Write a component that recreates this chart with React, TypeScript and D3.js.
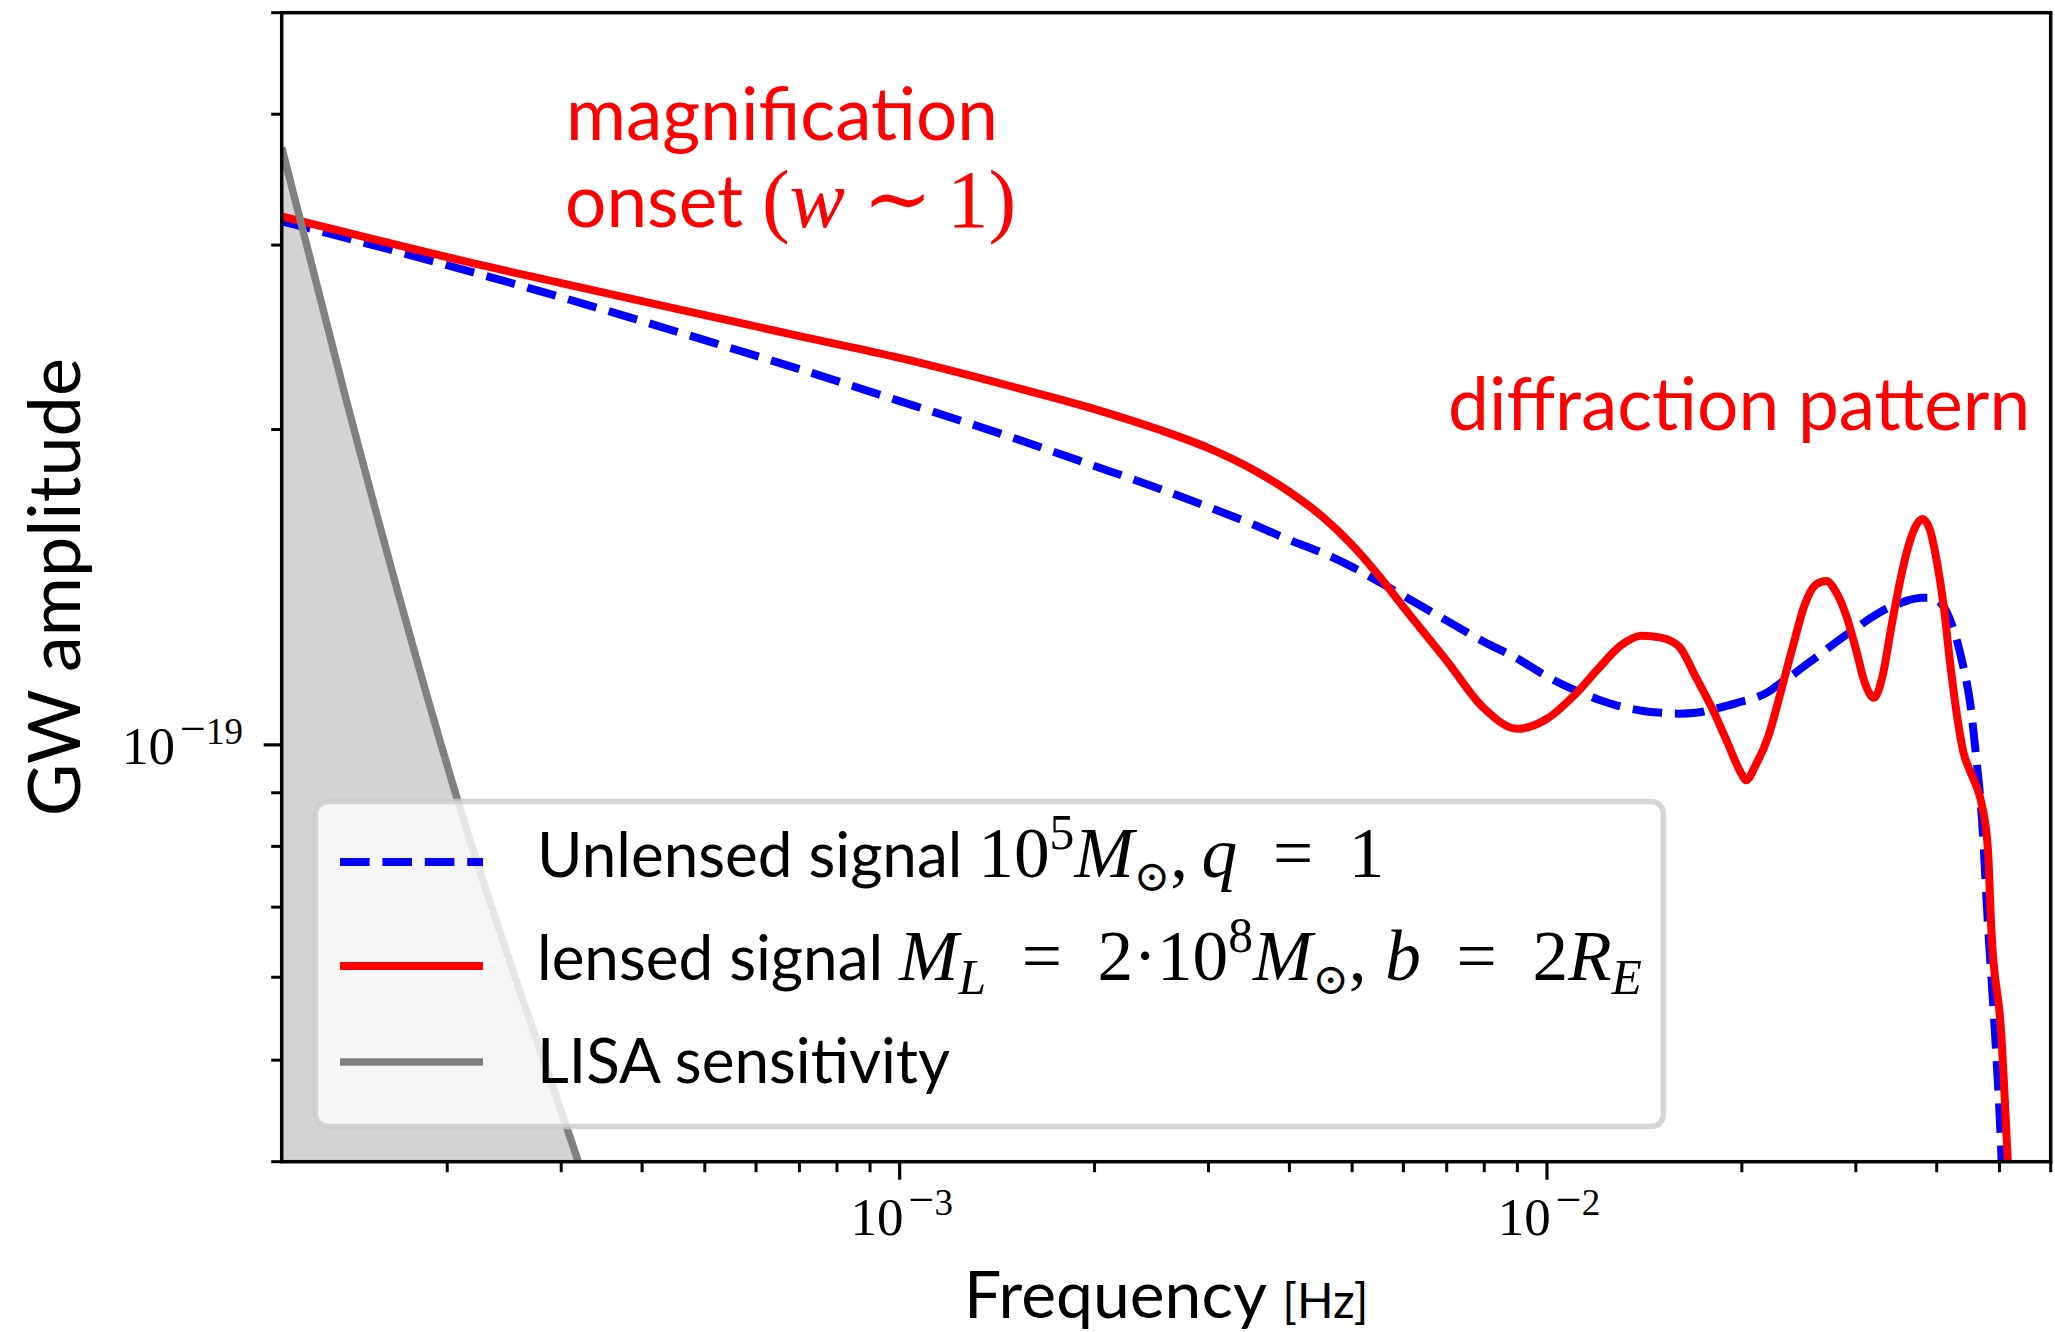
import React from 'react';
import * as d3 from 'd3';

// ---------- data ----------
const lensedFreq = [
  1.11e-4, 1.5e-4, 2e-4, 3e-4, 5e-4, 7e-4, 1e-3, 1.5e-3, 2e-3, 2.5e-3, 3e-3, 3.5e-3, 4e-3, 4.5e-3, 5e-3, 5.5e-3, 6e-3, 7e-3, 8e-3, 9e-3,
  1.0e-2, 1.1e-2, 1.2e-2, 1.3e-2, 1.4e-2, 1.5e-2, 1.6e-2, 1.7e-2, 1.8e-2, 1.9e-2,
  2.0e-2, 2.03e-2, 2.1e-2, 2.2e-2, 2.3e-2, 2.4e-2, 2.5e-2, 2.6e-2, 2.7e-2, 2.8e-2, 2.9e-2,
  3.0e-2, 3.1e-2, 3.2e-2, 3.3e-2, 3.4e-2, 3.5e-2, 3.6e-2, 3.7e-2, 3.8e-2, 3.9e-2,
  4.0e-2, 4.1e-2, 4.2e-2, 4.3e-2, 4.4e-2, 4.5e-2, 4.6e-2, 4.7e-2, 4.8e-2,
  4.86e-2, 5.03e-2, 5.15e-2, 5.21e-2,
];
const lensedAmp = [
  3.196e-19, 3.052e-19, 2.921e-19, 2.759e-19, 2.572e-19, 2.456e-19, 2.341e-19, 2.196e-19, 2.092e-19, 2.002e-19,
  1.920e-19, 1.834e-19, 1.744e-19, 1.651e-19, 1.552e-19, 1.450e-19, 1.354e-19, 1.203e-19, 1.083e-19, 1.036e-19,
  1.059e-19, 1.114e-19, 1.182e-19, 1.244e-19, 1.271e-19, 1.266e-19, 1.241e-19, 1.159e-19, 1.083e-19, 1.005e-19,
  0.937e-19, 0.925e-19, 0.956e-19, 1.021e-19, 1.127e-19, 1.244e-19, 1.360e-19, 1.422e-19, 1.434e-19, 1.397e-19, 1.328e-19,
  1.235e-19, 1.144e-19, 1.109e-19, 1.164e-19, 1.291e-19, 1.419e-19, 1.532e-19, 1.611e-19, 1.643e-19, 1.608e-19,
  1.499e-19, 1.358e-19, 1.190e-19, 1.066e-19, 0.983e-19, 0.945e-19, 0.915e-19, 0.875e-19, 0.793e-19,
  0.663e-19, 0.532e-19, 0.401e-19, 0.344e-19,
];
const unlensedFreq = [
  1.11e-4, 1.5e-4, 2e-4, 3e-4, 5e-4, 7e-4, 1e-3, 1.5e-3, 2e-3, 2.5e-3, 3e-3, 3.5e-3, 4e-3, 4.5e-3, 5e-3, 5.5e-3, 6e-3, 7e-3, 8e-3, 9e-3,
  1.0e-2, 1.1e-2, 1.2e-2, 1.3e-2, 1.4e-2, 1.5e-2, 1.6e-2, 1.7e-2, 1.8e-2, 1.9e-2,
  2.0e-2, 2.1e-2, 2.2e-2, 2.3e-2, 2.4e-2, 2.5e-2, 2.6e-2, 2.7e-2, 2.8e-2, 2.9e-2,
  3.0e-2, 3.1e-2, 3.2e-2, 3.3e-2, 3.4e-2, 3.5e-2, 3.6e-2, 3.7e-2, 3.8e-2, 3.9e-2,
  4.0e-2, 4.1e-2, 4.2e-2, 4.3e-2, 4.4e-2, 4.5e-2, 4.6e-2, 4.7e-2, 4.8e-2,
  4.92e-2, 5.038e-2, 5.08e-2,
];
const unlensedAmp = [
  3.161e-19, 3.012e-19, 2.870e-19, 2.675e-19, 2.434e-19, 2.284e-19, 2.129e-19, 1.963e-19, 1.846e-19, 1.759e-19,
  1.687e-19, 1.625e-19, 1.569e-19, 1.525e-19, 1.479e-19, 1.431e-19, 1.388e-19, 1.314e-19, 1.254e-19, 1.209e-19,
  1.162e-19, 1.129e-19, 1.105e-19, 1.088e-19, 1.078e-19, 1.073e-19, 1.071e-19, 1.073e-19, 1.081e-19, 1.090e-19,
  1.100e-19, 1.109e-19, 1.124e-19, 1.147e-19, 1.167e-19, 1.190e-19, 1.211e-19, 1.233e-19, 1.254e-19, 1.274e-19,
  1.291e-19, 1.311e-19, 1.328e-19, 1.343e-19, 1.355e-19, 1.364e-19, 1.373e-19, 1.379e-19, 1.382e-19, 1.382e-19,
  1.376e-19, 1.355e-19, 1.314e-19, 1.257e-19, 1.185e-19, 1.102e-19, 0.977e-19, 0.847e-19, 0.673e-19,
  0.532e-19, 0.401e-19, 0.344e-19,
];
const lisaFreq = [1.11e-4, 1.398e-4, 2.069e-4, 3.185e-4, 3.5e-4];
const lisaAmp = [3.719e-19, 2.129e-19, 0.891e-19, 0.4006e-19, 0.3365e-19];

const xDomain = [1.11e-4, 6e-2];
const yDomain = [4e-20, 5e-19];
const xMajorTicks = [1e-3, 1e-2];
const xMajorExponents = ['3', '2'];
const yMajorTicks = [1e-19];
const yMajorExponents = ['19'];

const legendSeries = ['unlensed', 'lensed', 'lisa'];

// ---------- styling ----------
const W = 2055;
const H = 1332;
const M = { left: 281.7, right: 2050.7, top: 12.7, bottom: 1161.7 };
const SANS = "Lato, 'DejaVu Sans', sans-serif";
const SERIF = "'Liberation Serif', 'DejaVu Serif', serif";
const RED = '#ff0000';
const BLUE = '#0000ff';
const GRAY = '#808080';
const EQ = '\u2002=\u2002';

type Run = { t: string; m?: boolean; i?: boolean; k?: number; b?: number; dx?: number };

function Runs({ runs, size }: { runs: Run[]; size: number }) {
  let prev = 0;
  return (
    <>
      {runs.map((r, idx) => {
        const shift = (r.b ?? 0) * size;
        const dy = shift - prev;
        prev = shift;
        return (
          <tspan
            key={idx}
            dy={dy !== 0 ? dy : undefined}
            dx={r.dx ? r.dx * size : undefined}
            fontFamily={r.m ? SERIF : SANS}
            fontStyle={r.i ? 'italic' : 'normal'}
            fontSize={(r.k ?? 1) * size}
          >
            {r.t}
          </tspan>
        );
      })}
    </>
  );
}

function minorTicks(domain: number[]) {
  const out: number[] = [];
  const lo = Math.floor(Math.log10(domain[0]));
  const hi = Math.ceil(Math.log10(domain[1]));
  for (let d = lo; d <= hi; d++) {
    for (let k = 2; k <= 9; k++) {
      const v = k * Math.pow(10, d);
      if (v >= domain[0] * 0.9999 && v <= domain[1] * 1.0001) out.push(v);
    }
  }
  return out;
}

function PowLabel({ x, y, exp, anchor }: { x: number; y: number; exp: string; anchor: 'middle' | 'end' }) {
  return (
    <text x={x} y={y} textAnchor={anchor} fill="#000" fontFamily={SERIF} fontSize={53}>
      <tspan>10</tspan>
      <tspan fontSize={46} dx={5} dy={-20}>
        {'\u2212'}
      </tspan>
      <tspan fontSize={37}>{exp}</tspan>
    </text>
  );
}

export default function App() {
  const x = d3.scaleLog().domain(xDomain).range([M.left, M.right]);
  const y = d3.scaleLog().domain(yDomain).range([M.bottom, M.top]);

  const pts = (fs: number[], as: number[]) => fs.map((f, i) => [f, as[i]] as [number, number]);
  const line = d3
    .line<[number, number]>()
    .x((d) => x(d[0]))
    .y((d) => y(d[1]))
    .curve(d3.curveMonotoneX);
  const area = d3
    .area<[number, number]>()
    .x((d) => x(d[0]))
    .y0(M.bottom + 200)
    .y1((d) => y(d[1]))
    .curve(d3.curveMonotoneX);

  const lensedPath = line(pts(lensedFreq, lensedAmp)) || '';
  const unlensedPath = line(pts(unlensedFreq, unlensedAmp)) || '';
  const lisaPts = pts(lisaFreq, lisaAmp);
  const lisaPath = line(lisaPts) || '';
  const lisaArea = area(lisaPts) || '';

  const xMinor = minorTicks(xDomain);
  const yMinor = minorTicks(yDomain);

  const MK = 1.15;
  const legendText: Record<string, Run[]> = {
    unlensed: [
      { t: 'Unlensed signal ' },
      { t: '10', m: true, k: MK },
      { t: '5', m: true, k: 0.8, b: -0.45 },
      { t: 'M', m: true, i: true, k: MK },
      { t: '\u2299', m: true, k: 0.7, b: 0.22 },
      { t: ',', m: true, k: MK },
      { t: 'q', m: true, i: true, k: MK, dx: 0.22 },
      { t: EQ + '1', m: true, k: MK },
    ],
    lensed: [
      { t: 'lensed signal ' },
      { t: 'M', m: true, i: true, k: MK },
      { t: 'L', m: true, i: true, k: 0.8, b: 0.22 },
      { t: EQ + '2\u00b710', m: true, k: MK },
      { t: '8', m: true, k: 0.8, b: -0.45 },
      { t: 'M', m: true, i: true, k: MK },
      { t: '\u2299', m: true, k: 0.7, b: 0.22 },
      { t: ',', m: true, k: MK },
      { t: 'b', m: true, i: true, k: MK, dx: 0.3 },
      { t: EQ + '2', m: true, k: MK },
      { t: 'R', m: true, i: true, k: MK },
      { t: 'E', m: true, i: true, k: 0.8, b: 0.22 },
    ],
    lisa: [{ t: 'LISA sensitivity' }],
  };
  const legendStyle: Record<string, { color: string; dash?: string; w: number }> = {
    unlensed: { color: BLUE, dash: '29.6 12.8', w: 8 },
    lensed: { color: RED, w: 8 },
    lisa: { color: GRAY, w: 7.5 },
  };
  const rowBase = [877, 980, 1083];
  const rowHandle = [862, 966, 1062];

  return (
    <svg
      width={W}
      height={H}
      viewBox={`0 0 ${W} ${H}`}
      style={{ position: 'absolute', left: 0, top: 0, background: '#fff' }}
    >
      <defs>
        <clipPath id="plotClip">
          <rect x={M.left} y={M.top} width={M.right - M.left} height={M.bottom - M.top} />
        </clipPath>
      </defs>
      <rect x={0} y={0} width={W} height={H} fill="#fff" />

      <g clipPath="url(#plotClip)">
        <path d={lisaArea} fill="#d3d3d3" stroke="none" />
        <path d={unlensedPath} fill="none" stroke={BLUE} strokeWidth={8} strokeDasharray="29.6 12.8" />
        <path d={lensedPath} fill="none" stroke={RED} strokeWidth={8} strokeLinejoin="round" />
        <path d={lisaPath} fill="none" stroke={GRAY} strokeWidth={7.5} />
      </g>

      {/* annotations */}
      <text x={566} y={140} fill={RED} fontFamily={SANS} fontSize={73} style={{ whiteSpace: 'pre' }}>
        magnification
      </text>
      <text x={565} y={227} fill={RED} fontSize={73} style={{ whiteSpace: 'pre' }}>
        <Runs
          size={73}
          runs={[
            { t: 'onset ' },
            { t: '(', m: true, k: 1.14 },
            { t: 'w', m: true, i: true, k: 1.14 },
            { t: '\u223c', m: true, k: 1.14, dx: 0.24 },
            { t: '1', m: true, k: 1.14, dx: 0.2 },
            { t: ')', m: true, k: 1.14 },
          ]}
        />
      </text>
      <text x={1448} y={430} fill={RED} fontFamily={SANS} fontSize={73} style={{ whiteSpace: 'pre' }}>
        diffraction pattern
      </text>

      {/* legend */}
      <g>
        <rect
          x={315.5}
          y={801.5}
          width={1348}
          height={325}
          rx={12}
          ry={12}
          fill="rgba(255,255,255,0.8)"
          stroke="rgba(204,204,204,0.8)"
          strokeWidth={5.5}
        />
        {legendSeries.map((key, i) => {
          const st = legendStyle[key];
          return (
            <g key={key}>
              <line
                x1={340}
                x2={483}
                y1={rowHandle[i]}
                y2={rowHandle[i]}
                stroke={st.color}
                strokeWidth={st.w}
                strokeDasharray={st.dash}
              />
              <text x={537} y={rowBase[i]} fill="#000" fontSize={62} style={{ whiteSpace: 'pre' }}>
                <Runs size={62} runs={legendText[key]} />
              </text>
            </g>
          );
        })}
      </g>

      {/* spines */}
      <rect
        x={M.left}
        y={M.top}
        width={M.right - M.left}
        height={M.bottom - M.top}
        fill="none"
        stroke="#000"
        strokeWidth={3.5}
      />

      {/* x ticks */}
      {xMinor.map((v) => (
        <line key={'xm' + v} x1={x(v)} x2={x(v)} y1={M.bottom} y2={M.bottom + 10.5} stroke="#000" strokeWidth={3} />
      ))}
      {xMajorTicks.map((v, i) => (
        <g key={'xM' + v}>
          <line x1={x(v)} x2={x(v)} y1={M.bottom} y2={M.bottom + 18} stroke="#000" strokeWidth={3.2} />
          <PowLabel x={x(v) + 2} y={1235} exp={xMajorExponents[i]} anchor="middle" />
        </g>
      ))}

      {/* y ticks */}
      {yMinor.map((v) => (
        <line key={'ym' + v} x1={M.left - 10.5} x2={M.left} y1={y(v)} y2={y(v)} stroke="#000" strokeWidth={3} />
      ))}
      {yMajorTicks.map((v, i) => (
        <g key={'yM' + v}>
          <line x1={M.left - 18} x2={M.left} y1={y(v)} y2={y(v)} stroke="#000" strokeWidth={3.2} />
          <PowLabel x={243} y={y(v) + 19} exp={yMajorExponents[i]} anchor="end" />
        </g>
      ))}

      {/* axis labels */}
      <text x={(M.left + M.right) / 2} y={1318} textAnchor="middle" fill="#000" fontFamily={SANS} fontSize={66} style={{ whiteSpace: 'pre' }}>
        <tspan>Frequency </tspan>
        <tspan fontSize={48}>[Hz]</tspan>
      </text>
      <text
        transform={`translate(80, ${(M.top + M.bottom) / 2}) rotate(-90)`}
        textAnchor="middle"
        fill="#000"
        fontFamily={SANS}
        fontSize={72}
      >
        GW amplitude
      </text>
    </svg>
  );
}
